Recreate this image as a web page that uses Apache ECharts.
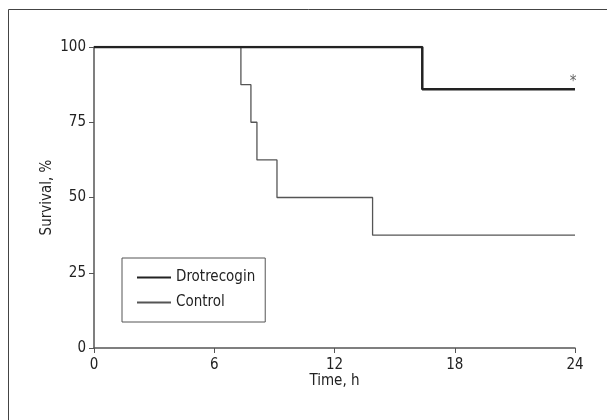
<!DOCTYPE html>
<html>
<head>
<meta charset="utf-8">
<title>Survival</title>
<script src="https://cdn.jsdelivr.net/npm/echarts@6/dist/echarts.min.js"></script>
<style>
html,body{margin:0;padding:0;background:#fff;}
#chartmain{width:607px;height:420px;}
</style>
</head>
<body>
<div id="chartmain"></div>
<script>
// time (h) and survival (%) at each step of the curves
var drotTime=[0,16.38,24];
var drotSurv=[100,86,86];
var ctrlTime=[0,7.33,7.83,8.13,9.13,13.9,24];
var ctrlSurv=[100,87.5,75,62.5,50,37.5,37.5];
var xTicks=[0,6,12,18,24];
var yTicks=[0,25,50,75,100];

function pairs(t,v){
    var out=[];
    for(var i=0;i<t.length;i++){ out.push([t[i],v[i]]); }
    return out;
}

var font="'Liberation Sans Narrow','DejaVu Sans Condensed','Roboto',sans-serif";
var myChart=echarts.init(document.getElementById('chartmain'));
var option={
    animation:false,
    textStyle:{fontFamily:font},
    graphic:[{
        type:'rect',
        shape:{x:8.5,y:9.5,width:700,height:500},
        style:{fill:'none',stroke:'#444',lineWidth:1},
        silent:true,
        z:-1
    }],
    grid:{left:94,right:32,top:47,bottom:72},
    legend:{
        orient:'vertical',
        left:122,
        top:258,
        padding:[12,10,12,14],
        itemGap:10,
        itemWidth:34,
        itemHeight:14,
        borderColor:'#555',
        borderWidth:1,
        itemStyle:{opacity:0},
        textStyle:{fontFamily:font,fontSize:15,color:'#222'},
        data:['Drotrecogin','Control']
    },
    xAxis:{
        type:'value',
        min:0,max:24,interval:6,
        name:'Time, h',
        nameLocation:'middle',
        nameGap:26,
        nameMoveOverlap:false,
        nameTextStyle:{fontFamily:font,fontSize:15,color:'#222'},
        axisLine:{show:true,lineStyle:{color:'#555',width:1.5}},
        axisTick:{show:true,length:5,lineStyle:{color:'#555'}},
        axisLabel:{fontFamily:font,fontSize:15,color:'#222',margin:10,
            formatter:function(v){return xTicks.indexOf(v)>=0?String(v):'';}},
        splitLine:{show:false}
    },
    yAxis:{
        type:'value',
        min:0,max:100,interval:25,
        name:'Survival, %',
        nameLocation:'middle',
        nameGap:39,
        nameMoveOverlap:false,
        nameTextStyle:{fontFamily:font,fontSize:15,color:'#222'},
        axisLine:{show:true,lineStyle:{color:'#555',width:1.5}},
        axisTick:{show:true,length:5,lineStyle:{color:'#555'}},
        axisLabel:{fontFamily:font,fontSize:15,color:'#222',margin:8,
            formatter:function(v){return yTicks.indexOf(v)>=0?String(v):'';}},
        splitLine:{show:false}
    },
    series:[
        {
            name:'Drotrecogin',
            type:'line',
            step:'end',
            symbol:'none',
            color:'#222',
            lineStyle:{color:'#222',width:2.5},
            data:pairs(drotTime,drotSurv),
            markPoint:{
                symbol:'circle',
                symbolSize:0,
                label:{show:true,formatter:'*',fontSize:15,color:'#666',offset:[-2,-7],fontFamily:font},
                data:[{coord:[drotTime[drotTime.length-1],drotSurv[drotSurv.length-1]]}]
            },
            z:3
        },
        {
            name:'Control',
            type:'line',
            step:'end',
            symbol:'none',
            color:'#555',
            lineStyle:{color:'#555',width:1.3},
            data:pairs(ctrlTime,ctrlSurv),
            z:2
        }
    ]
};
myChart.setOption(option);
</script>
</body>
</html>
